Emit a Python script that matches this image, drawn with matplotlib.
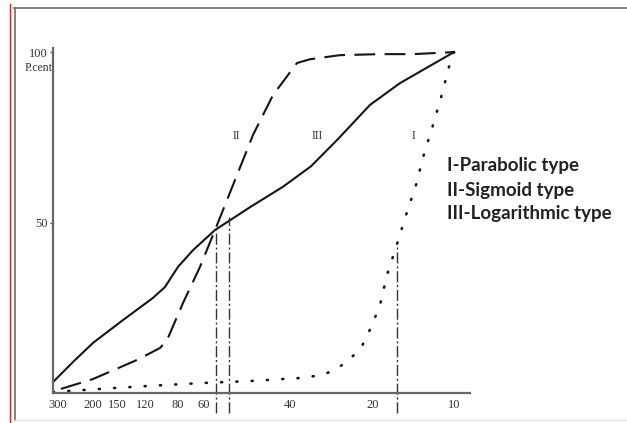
import matplotlib
matplotlib.use("Agg")
import matplotlib.pyplot as plt
from matplotlib.lines import Line2D

# x is an arbitrary sieve position scale (0 = y axis), y is percent
tickPos = [5, 40, 64, 92, 125, 151, 237, 320, 401]
tickLab = ["300", "200", "150", "120", "80", "60", "40", "20", "10"]

# I - parabolic (dotted)
xPar = [0, 47, 97, 147, 197, 247, 270, 285, 297, 308, 315, 321, 327,
        334, 344, 353, 363, 371, 380, 389, 397, 401]
yPar = [0.3, 1.2, 2.1, 2.9, 3.5, 4.4, 5.3, 7.3, 10.0, 13.2, 17.3, 21.4,
        25.8, 34.6, 43.7, 52.2, 61.0, 70.1, 78.6, 87.7, 96.8, 100]

# II - sigmoid (dashed)
xSig = [8, 40, 84, 107, 114, 130, 147, 162, 180, 200, 220, 244, 257,
        287, 327, 360, 401]
ySig = [1.2, 4.1, 9.7, 13.2, 15.5, 26.4, 37.0, 47.8, 61.0, 75.7, 87.4,
        96.8, 97.9, 99.1, 99.4, 99.4, 100]

# III - logarithmic (solid)
xLog = [0, 20, 40, 70, 100, 112, 125, 140, 162, 197, 230, 258, 285, 317,
        347, 401]
yLog = [3.2, 9.1, 14.7, 21.4, 27.9, 31.1, 37.0, 41.9, 47.8, 54.5, 60.5,
        66.5, 74.5, 84.5, 90.9, 100]

# vertical marker lines: x, top percent
vX = [163, 176, 344]
vTop = [47.8, 51.5, 43.7]

romanTxt = ["II", "III", "I"]
romanX = [183, 264, 360]
romanY = [75.5, 75.5, 75.5]

legendTxt = ["I-Parabolic type", "II-Sigmoid type", "III-Logarithmic type"]

fig = plt.figure(figsize=(6.27, 4.23), dpi=100)
ax = fig.add_axes([53/627, 30/423, 417/627, 345/423])

ink = "#151515"
ax.plot(xLog, yLog, color=ink, lw=1.5)
ax.plot(xSig, ySig, color=ink, lw=1.5, dashes=(10, 4.5))
ax.plot(xPar, yPar, color=ink, lw=1.9, dashes=(0.4, 5.4),
        dash_capstyle="round")

for x, t in zip(vX, vTop):
    ax.plot([x, x], [-5.9, t], color="#333333", lw=1.0,
            dashes=(8, 2, 1.5, 2), clip_on=False)

for t, x, y in zip(romanTxt, romanX, romanY):
    ax.text(x, y, t, fontsize=8.5, family="Liberation Serif", color="#333333",
            ha="center", va="center")

for i, t in enumerate(legendTxt):
    fig.text(447/627, 1 - (166 + i*24)/423, t, fontsize=13.5, family="Lato",
             fontweight="bold", color="#222222", va="center", ha="left")

ax.set_xlim(0, 417)
ax.set_ylim(0, 101.2)
ax.set_xticks(tickPos)
ax.set_xticklabels(tickLab)
ax.set_yticks([50, 100])
ax.set_yticklabels(["50", "100"])
ax.tick_params(axis="x", length=0, pad=4, labelsize=9, labelcolor="#333333")
ax.tick_params(axis="y", length=2, width=1, pad=2, labelsize=9,
               labelcolor="#333333", color="#555555")
for lab in ax.get_xticklabels() + ax.get_yticklabels():
    lab.set_family("Liberation Serif")

ax.text(-0.5, 95.4, "P.cent", fontsize=8.5, family="Liberation Serif",
        color="#333333", ha="right", va="center")

for s in ["top", "right"]:
    ax.spines[s].set_visible(False)
for s in ["left", "bottom"]:
    ax.spines[s].set_color("#666666")
    ax.spines[s].set_linewidth(1.6)

# page frame around the figure
fig.add_artist(Line2D([9.5/627, 9.5/627], [0, 1 - 4/423], color="#e02020", lw=1))
fig.add_artist(Line2D([15/627, 15/627], [1 - 420/423, 1 - 8/423], color="#777777", lw=1.3))
fig.add_artist(Line2D([14/627, 1], [1 - 8/423, 1 - 8/423], color="#777777", lw=1.3))
fig.add_artist(Line2D([15/627, 1], [1 - 420/423, 1 - 420/423], color="#e6e6e6", lw=1))

fig.savefig("out.png", dpi=100)
